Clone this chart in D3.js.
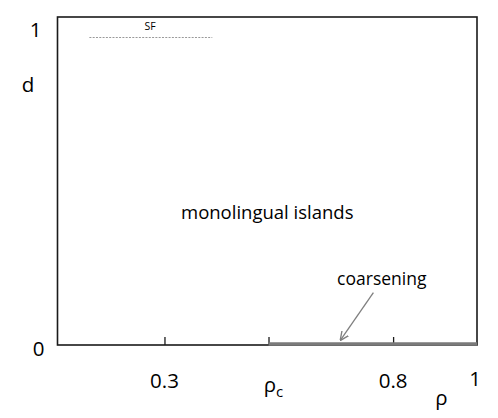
<!DOCTYPE html>
<html>
<head>
<meta charset="utf-8">
<script src="https://cdn.jsdelivr.net/npm/d3@7"></script>
<style>
  html, body { margin: 0; padding: 0; background: #fff; }
  svg { display: block; font-family: "Open Sans", "Liberation Sans", sans-serif; }
</style>
</head>
<body>
<div id="chart"></div>
<script>
// Schematic phase diagram, d vs rho

// x-axis ticks (schematic positions) and their labels
const xTickRho = [0.255, 0.503, 0.8];
const xTickLabels = ["0.3", "ρc", "0.8"];
const rhoC = 0.503;

// y-axis labels
const yTickValues = [0, 1];
const yTickLabels = ["0", "1"];

// coarsening segment along d = 0
const coarseningRho = [rhoC, 1];
const coarseningD = [0, 0];

// dotted SF line near d = 1
const sfRho = [0.076, 0.369];
const sfD = [0.975, 0.975];

// arrow for the "coarsening" note: start, tip
const arrowRho = [0.753, 0.675];
const arrowD = [0.166, 0.016];

const CHART = {
    width: 498,
    height: 418,
    margin: { top: 17, right: 21, bottom: 73, left: 57.5 }
};

function renderChart() {
    const w = CHART.width - CHART.margin.left - CHART.margin.right;
    const h = CHART.height - CHART.margin.top - CHART.margin.bottom;

    const svg = d3.select("#chart").append("svg")
        .attr("width", CHART.width)
        .attr("height", CHART.height);

    svg.append("defs").append("marker")
        .attr("id", "arrow")
        .attr("viewBox", "0 0 10 10")
        .attr("refX", 9).attr("refY", 5)
        .attr("markerWidth", 9).attr("markerHeight", 9)
        .attr("markerUnits", "userSpaceOnUse")
        .attr("orient", "auto")
        .append("path")
        .attr("d", "M0,0.5 L10,5 L0,9.5")
        .attr("fill", "none")
        .attr("stroke", "#7f7f7f")
        .attr("stroke-width", 1.5);

    const g = svg.append("g")
        .attr("transform", `translate(${CHART.margin.left},${CHART.margin.top})`);

    const x = d3.scaleLinear().domain([0, 1]).range([0, w]);
    const y = d3.scaleLinear().domain([0, 1.04]).range([h, 0]);

    // frame
    g.append("rect")
        .attr("x", x(0)).attr("y", 0)
        .attr("width", x(1) - x(0)).attr("height", h)
        .attr("fill", "none")
        .attr("stroke", "#1a1a1a")
        .attr("stroke-width", 1.6);

    // inward ticks
    g.append("g")
        .attr("transform", `translate(0,${h})`)
        .call(d3.axisBottom(x).tickValues(xTickRho).tickSize(-8).tickFormat(""))
        .call(a => a.select(".domain").remove())
        .call(a => a.selectAll(".tick line").attr("stroke", "#1a1a1a").attr("stroke-width", 1.3));

    // coarsening line
    const line = d3.line().x(d => x(d[0])).y(d => y(d[1]));
    g.append("path")
        .datum(d3.zip(coarseningRho, coarseningD))
        .attr("d", line)
        .attr("fill", "none")
        .attr("stroke", "#7a7a7a")
        .attr("stroke-width", 3.5)
        .attr("transform", "translate(0,-1)");

    // SF dotted line
    g.append("path")
        .datum(d3.zip(sfRho, sfD))
        .attr("d", line)
        .attr("fill", "none")
        .attr("stroke", "#999")
        .attr("stroke-width", 1)
        .attr("stroke-dasharray", "2,1.3");

    // arrow
    g.append("path")
        .datum(d3.zip(arrowRho, arrowD))
        .attr("d", line)
        .attr("fill", "none")
        .attr("stroke", "#7f7f7f")
        .attr("stroke-width", 1.3)
        .attr("marker-end", "url(#arrow)");

    // x tick labels
    xTickRho.forEach((r, i) => {
        const t = g.append("text")
            .attr("x", x(r))
            .attr("y", h + 43)
            .attr("text-anchor", "middle")
            .attr("font-size", 20.5)
            .attr("fill", "#000");
        if (xTickLabels[i] === "ρc") {
            t.attr("x", x(r) + 5).attr("y", h + 47);
            t.append("tspan").text("ρ");
            t.append("tspan").attr("font-size", 15).attr("dy", 5).text("c");
        } else {
            t.text(xTickLabels[i]);
        }
    });
    g.append("text")
        .attr("x", x(1) - 2).attr("y", h + 41)
        .attr("text-anchor", "middle")
        .attr("font-size", 20.5).attr("fill", "#000")
        .text("1");
    g.append("text")
        .attr("x", x(0.915)).attr("y", h + 60)
        .attr("text-anchor", "middle")
        .attr("font-size", 20.5).attr("fill", "#000")
        .text("ρ");

    // y labels
    yTickValues.forEach((v, i) => {
        g.append("text")
            .attr("x", v === 0 ? -19 : -22)
            .attr("y", y(v) + (v === 0 ? 10.5 : 7.5))
            .attr("text-anchor", "middle")
            .attr("font-size", 20.5).attr("fill", "#000")
            .text(yTickLabels[i]);
    });
    g.append("text")
        .attr("x", -29.5).attr("y", y(0.82) + 6)
        .attr("text-anchor", "middle")
        .attr("font-size", 20.5).attr("fill", "#000")
        .text("d");

    // annotations
    g.append("text")
        .attr("x", x(0.5)).attr("y", y(0.40))
        .attr("text-anchor", "middle")
        .attr("font-size", 18.5).attr("fill", "#000")
        .text("monolingual islands");
    g.append("text")
        .attr("x", x(0.773)).attr("y", y(0.19))
        .attr("text-anchor", "middle")
        .attr("font-size", 17.5).attr("fill", "#000")
        .text("coarsening");
    g.append("text")
        .attr("x", x(0.221)).attr("y", y(1.0))
        .attr("text-anchor", "middle")
        .attr("font-size", 10.5).attr("fill", "#000")
        .text("SF");
}

document.addEventListener("DOMContentLoaded", renderChart);
</script>
</body>
</html>
